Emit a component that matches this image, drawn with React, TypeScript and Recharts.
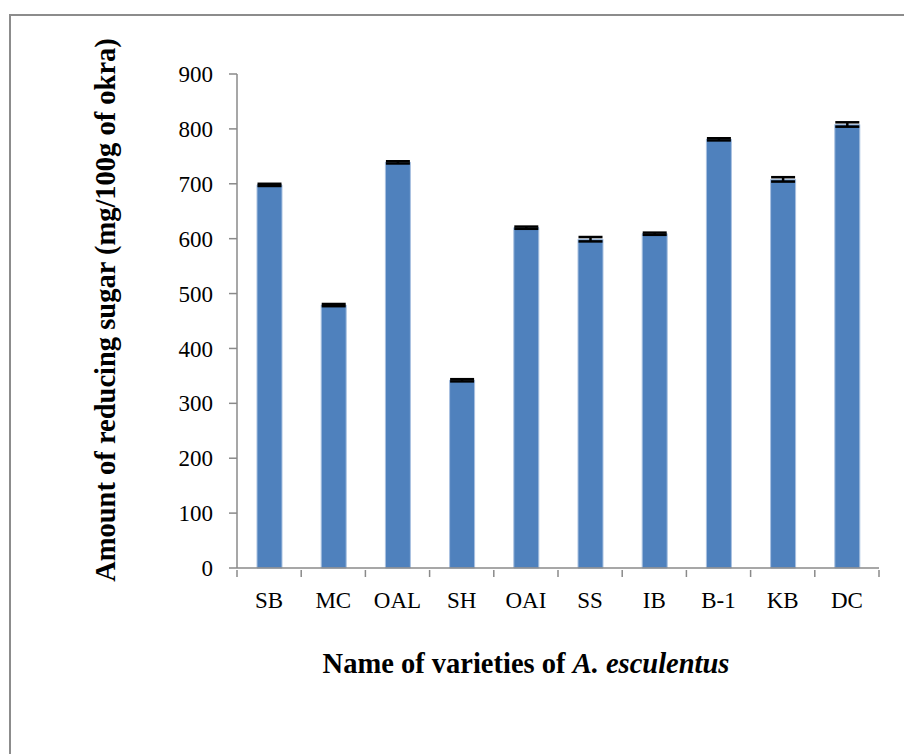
import { BarChart, Bar, XAxis, YAxis, ErrorBar } from 'recharts';

const varieties = ['SB', 'MC', 'OAL', 'SH', 'OAI', 'SS', 'IB', 'B-1', 'KB', 'DC'];
const sugar = [698, 479, 739, 342, 620, 599, 609, 781, 708, 808];
const sugarErr = [2, 2, 2, 2, 2, 4, 2, 2, 4, 4];
const yTicks = [0, 100, 200, 300, 400, 500, 600, 700, 800, 900];

const data = varieties.map((name, i) => ({ name, sugar: sugar[i], err: sugarErr[i] }));

const W = 904;
const H = 746;
const yAxisW = 229;
const rightM = 33;
const step = (W - yAxisW - rightM) / varieties.length;
const axisColor = '#8a8a8a';
const font = '"Liberation Serif", "Times New Roman", serif';

function XTick(props: any) {
  const { x, y, payload, index } = props;
  const last = index === varieties.length - 1;
  return (
    <g>
      <line x1={x - step / 2} x2={x - step / 2} y1={y} y2={y + 7} stroke={axisColor} strokeWidth={1.5} />
      {last && <line x1={x + step / 2} x2={x + step / 2} y1={y} y2={y + 7} stroke={axisColor} strokeWidth={1.5} />}
      <text x={x} y={y + 38} textAnchor="middle" fontFamily={font} fontSize={23} fill="#000">
        {payload.value}
      </text>
    </g>
  );
}

export default function App() {
  return (
    <div style={{ position: 'relative', width: W, height: H, overflow: 'hidden' }}>
      <div
        style={{
          position: 'absolute', left: 1, top: 6, width: 1200, height: 1200,
          borderLeft: '2px solid #8c8c8c', borderTop: '2px solid #8c8c8c',
        }}
      />
      <div style={{ position: 'absolute', left: 0, top: 0 }}>
        <BarChart width={W} height={H} data={data} margin={{ top: 66, right: rightM, left: 0, bottom: 0 }} barCategoryGap={0}>
          <XAxis
            dataKey="name"
            height={186}
            tickLine={false}
            tickSize={0}
            interval={0}
            stroke={axisColor}
            strokeWidth={1.5}
            tick={<XTick />}
            label={{
              content: () => (
                <text x={518} y={665} textAnchor="middle" fontFamily={font} fontSize={28.5} fontWeight="bold" fill="#000">
                  Name of varieties of <tspan fontStyle="italic">A. esculentus</tspan>
                </text>
              ),
            }}
          />
          <YAxis
            width={yAxisW}
            domain={[0, 900]}
            ticks={yTicks}
            interval={0}
            tickSize={8}
            tickMargin={16}
            stroke={axisColor}
            strokeWidth={1.5}
            tick={{ fontFamily: font, fontSize: 23, fill: '#000' }}
            label={{
              content: () => (
                <text
                  x={107}
                  y={302}
                  transform="rotate(-90 107 302)"
                  textAnchor="middle"
                  fontFamily={font}
                  fontSize={28.5}
                  fontWeight="bold"
                  fill="#000"
                >
                  Amount of reducing sugar (mg/100g of okra)
                </text>
              ),
            }}
          />
          <Bar dataKey="sugar" fill="#4f81bd" stroke="#a9c1e0" strokeWidth={1} barSize={25} isAnimationActive={false}>
            <ErrorBar dataKey="err" width={12} stroke="#000" strokeWidth={2.5} />
          </Bar>
        </BarChart>
      </div>
    </div>
  );
}
